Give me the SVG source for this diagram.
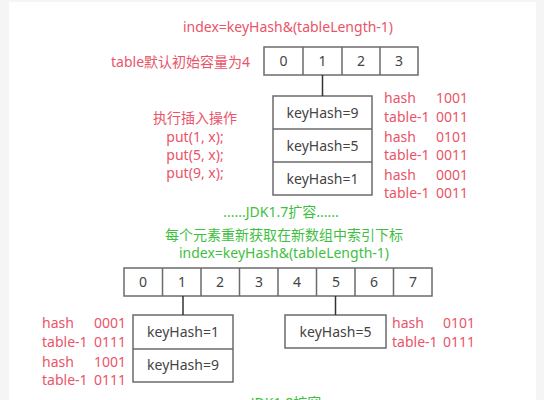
<svg xmlns="http://www.w3.org/2000/svg" width="544" height="400" viewBox="0 0 544 400">
<style>
text{font-family:"Noto Sans","Noto Sans CJK SC",sans-serif;font-size:14px}
.r{fill:#ea5468}
.g{fill:#3fbf3f}
.k{fill:#444}
.c{text-anchor:middle}
.e{text-anchor:end}
.box{fill:#fff;stroke:#6b6b6b;stroke-width:1.5}
.ln{stroke:#333;stroke-width:1.5;fill:none}
</style>
<rect x="0" y="0" width="544" height="400" fill="#f5f5f5"/>
<rect x="9" y="2" width="527" height="398" fill="#fff"/>

<g id="labels-top">
<text class="r c" x="288" y="32">index=keyHash&amp;(tableLength-1)</text>
<text class="r" x="111" y="67">table默认初始容量为4</text>
<text class="r c" x="195" y="123">执行插入操作</text>
<text class="r c" x="195" y="142">put(1, x);</text>
<text class="r c" x="195" y="160">put(5, x);</text>
<text class="r c" x="195" y="178">put(9, x);</text>
</g>

<g id="table4">
<rect class="box" x="264" y="47" width="154" height="28"/>
<path d="M303 47V75M342 47V75M380 47V75" stroke="#6b6b6b" stroke-width="1.5"/>
<text class="k c" x="283.5" y="66">0</text>
<text class="k c" x="322.5" y="66">1</text>
<text class="k c" x="361" y="66">2</text>
<text class="k c" x="399" y="66">3</text>
</g>

<g id="chain-old">
<rect class="box" x="273" y="96" width="99" height="99"/>
<path d="M273 129H372M273 162H372" stroke="#6b6b6b" stroke-width="1.5"/>
<text class="k c" x="322.5" y="118">keyHash=9</text>
<text class="k c" x="322.5" y="151">keyHash=5</text>
<text class="k c" x="322.5" y="184">keyHash=1</text>
</g>

<g id="bits-old">
<text class="r" x="384" y="103">hash</text><text class="r e" x="468" y="103">1001</text>
<text class="r" x="384" y="122">table-1</text><text class="r e" x="468" y="122">0011</text>
<text class="r" x="384" y="142">hash</text><text class="r e" x="468" y="142">0101</text>
<text class="r" x="384" y="160">table-1</text><text class="r e" x="468" y="160">0011</text>
<text class="r" x="384" y="180">hash</text><text class="r e" x="468" y="180">0001</text>
<text class="r" x="384" y="198">table-1</text><text class="r e" x="468" y="198">0011</text>
</g>

<g id="labels-mid">
<text class="g c" x="281" y="217">......JDK1.7扩容......</text>
<text class="g c" x="284" y="240">每个元素重新获取在新数组中索引下标</text>
<text class="g c" x="284" y="258">index=keyHash&amp;(tableLength-1)</text>
</g>

<g id="table8">
<rect class="box" x="124" y="268" width="308" height="28"/>
<path d="M162.5 268V296M201 268V296M239.5 268V296M278 268V296M316.5 268V296M355 268V296M393.5 268V296" stroke="#6b6b6b" stroke-width="1.5"/>
<text class="k c" x="143" y="287">0</text>
<text class="k c" x="182" y="287">1</text>
<text class="k c" x="220" y="287">2</text>
<text class="k c" x="259" y="287">3</text>
<text class="k c" x="297" y="287">4</text>
<text class="k c" x="336" y="287">5</text>
<text class="k c" x="374" y="287">6</text>
<text class="k c" x="413" y="287">7</text>
</g>

<g id="chain-new1">
<rect class="box" x="133" y="315" width="100" height="67"/>
<path d="M133 349H233" stroke="#6b6b6b" stroke-width="1.5"/>
<text class="k c" x="183" y="337">keyHash=1</text>
<text class="k c" x="183" y="370">keyHash=9</text>
</g>

<g id="chain-new5">
<rect class="box" x="285" y="315" width="101" height="33"/>
<text class="k c" x="335.5" y="337">keyHash=5</text>
</g>

<g id="bits-new">
<text class="r" x="42" y="328">hash</text><text class="r e" x="126" y="328">0001</text>
<text class="r" x="42" y="347">table-1</text><text class="r e" x="126" y="347">0111</text>
<text class="r" x="42" y="367">hash</text><text class="r e" x="126" y="367">1001</text>
<text class="r" x="42" y="385">table-1</text><text class="r e" x="126" y="385">0111</text>
<text class="r" x="392" y="328">hash</text><text class="r e" x="475" y="328">0101</text>
<text class="r" x="392" y="347">table-1</text><text class="r e" x="475" y="347">0111</text>
</g>

<g id="labels-bottom">
<text class="g c" x="286" y="408">JDK1.8扩容</text>
</g>

<g id="connectors">
<path class="ln" d="M322.5 75V96"/>
<path class="ln" d="M183 296V315"/>
<path class="ln" d="M335.5 296V315"/>
</g>
</svg>
